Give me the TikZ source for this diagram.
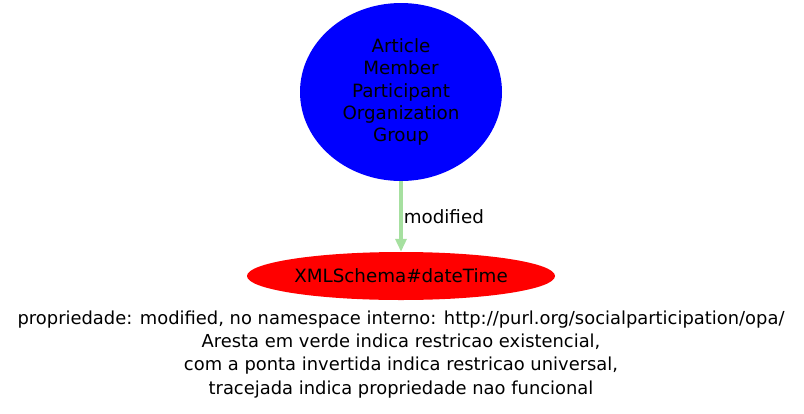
\documentclass[tikz,border=0pt]{standalone}
\usepackage{fontspec}
\setmainfont{DejaVu Sans}
\usetikzlibrary{shapes.geometric,arrows.meta}
\definecolor{edgegreen}{HTML}{A6E0A0}
\tikzset{
  cls/.style={ellipse, inner sep=0pt, font=\fontsize{18.3}{22.4}\selectfont, align=center},
  lbl/.style={font=\fontsize{18.3}{22.4}\selectfont, inner sep=1pt},
  captext/.style={font=\fontsize{17.9}{23.3}\selectfont, align=center},
  connector/.style={draw=edgegreen, line width=3.5pt, -{Triangle[length=13pt,width=11pt]}}
}
\begin{document}
\begin{tikzpicture}[x=1pt,y=-1pt]
\useasboundingbox (0,0) rectangle (804,413);
\node[cls, fill=blue, minimum width=202pt, minimum height=178pt] (a) at (401,92)
  {Article\\Member\\Participant\\Organization\\Group};
\node[cls, fill=red, minimum width=308pt, minimum height=48pt] (b) at (401,276) {XMLSchema\#dateTime};
\draw[connector] (a) -- (b) node[lbl, pos=0.5, anchor=west] {modified};
\node[captext, anchor=north] (c) at (401,307) {propriedade: modified, no namespace interno: http://purl.org/socialparticipation/opa/\\Aresta em verde indica restricao existencial,\\com a ponta invertida indica restricao universal,\\tracejada indica propriedade nao funcional};
\end{tikzpicture}
\end{document}
